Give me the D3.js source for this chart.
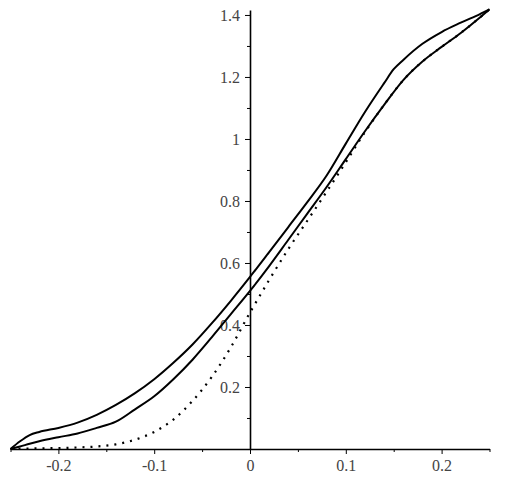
<!DOCTYPE html>
<html>
<head>
<meta charset="utf-8">
<script src="https://cdn.jsdelivr.net/npm/d3@7"></script>
<style>
  body { margin: 0; background: #fff; }
  svg { display: block; }
</style>
</head>
<body>
<svg id="board" width="525" height="504"></svg>
<script>
const upperX = [-0.25, -0.24, -0.23, -0.22, -0.2, -0.18, -0.16, -0.14, -0.12, -0.1, -0.08, -0.06, -0.04, -0.02, 0, 0.02, 0.04, 0.06, 0.08, 0.1, 0.12, 0.14, 0.15, 0.16, 0.18, 0.2, 0.22, 0.24, 0.25];
const upperY = [0, 0.025, 0.045, 0.055, 0.068, 0.085, 0.11, 0.142, 0.18, 0.225, 0.278, 0.337, 0.405, 0.478, 0.555, 0.635, 0.716, 0.797, 0.882, 0.985, 1.087, 1.18, 1.225, 1.255, 1.307, 1.345, 1.375, 1.403, 1.418];

const lowerX = [-0.25, -0.24, -0.23, -0.22, -0.2, -0.18, -0.16, -0.14, -0.12, -0.1, -0.08, -0.06, -0.04, -0.02, 0, 0.02, 0.04, 0.06, 0.08, 0.1, 0.12, 0.14, 0.16, 0.18, 0.2, 0.22, 0.24, 0.25];
const lowerY = [0, 0.008, 0.017, 0.025, 0.038, 0.05, 0.068, 0.088, 0.128, 0.17, 0.225, 0.288, 0.36, 0.435, 0.51, 0.59, 0.675, 0.76, 0.845, 0.935, 1.025, 1.11, 1.19, 1.25, 1.297, 1.342, 1.392, 1.418];

const dotX = [-0.25, -0.22, -0.2, -0.18, -0.16, -0.14, -0.12, -0.1, -0.08, -0.06, -0.04, -0.02, 0, 0.02, 0.04, 0.06, 0.08, 0.1, 0.12, 0.14, 0.16, 0.18, 0.2, 0.22, 0.24, 0.25];
const dotY = [0, 0.002, 0.003, 0.005, 0.008, 0.015, 0.03, 0.055, 0.095, 0.155, 0.232, 0.328, 0.44, 0.545, 0.645, 0.737, 0.83, 0.925, 1.022, 1.11, 1.19, 1.25, 1.297, 1.342, 1.392, 1.418];

const xMajor = [-0.2, -0.1, 0, 0.1, 0.2];
const xMinor = [-0.25, -0.15, -0.05, 0.05, 0.15, 0.25];
const yMajor = [0.2, 0.4, 0.6, 0.8, 1, 1.2, 1.4];
const yMinor = [0.1, 0.3, 0.5, 0.7, 0.9, 1.1, 1.3];

const svg = d3.select("#board");
const x = d3.scaleLinear().domain([-0.25, 0.25]).range([10.5, 489.5]);
const y = d3.scaleLinear().domain([0, 1.416]).range([449, 10]);

const styleText = g => g.selectAll(".tick text")
  .style("font-family", "'Liberation Serif', 'DejaVu Serif', serif")
  .style("font-size", "16px")
  .style("fill", "#444");

// minor ticks first, no labels
svg.append("g")
  .attr("transform", `translate(0,${y(0)})`)
  .call(d3.axisBottom(x).tickValues(xMinor).tickSize(3).tickSizeOuter(0).tickFormat(""))
  .call(g => g.select(".domain").remove());
svg.append("g")
  .attr("transform", `translate(${x(0)},0)`)
  .call(d3.axisLeft(y).tickValues(yMinor).tickSize(3).tickSizeOuter(0).tickFormat(""))
  .call(g => g.select(".domain").remove());

const xAxis = svg.append("g")
  .attr("transform", `translate(0,${y(0)})`)
  .call(d3.axisBottom(x).tickValues(xMajor).tickSize(5).tickSizeOuter(0).tickFormat(d => String(d)))
  .call(styleText);
xAxis.select(".domain").attr("stroke-width", 1.6);
xAxis.selectAll(".tick text").attr("y", 8).attr("dy", "0.9em");

const yAxis = svg.append("g")
  .attr("transform", `translate(${x(0)},0)`)
  .call(d3.axisLeft(y).tickValues(yMajor).tickSize(5).tickSizeOuter(0).tickFormat(d => String(d)))
  .call(styleText);
yAxis.select(".domain").attr("stroke-width", 1.6);
yAxis.selectAll(".tick text").attr("x", -10);

const drawCurve = (xs, ys, dashed) => {
  const pts = xs.map((v, i) => [v, ys[i]]);
  svg.append("path")
    .datum(pts)
    .attr("fill", "none")
    .attr("stroke", "#000")
    .attr("stroke-width", dashed ? 2.2 : 2)
    .attr("stroke-dasharray", dashed ? "2,6" : null)
    .attr("d", d3.line().x(d => x(d[0])).y(d => y(d[1])).curve(d3.curveMonotoneX));
};

drawCurve(dotX, dotY, true);
drawCurve(lowerX, lowerY, false);
drawCurve(upperX, upperY, false);
</script>
</body>
</html>
